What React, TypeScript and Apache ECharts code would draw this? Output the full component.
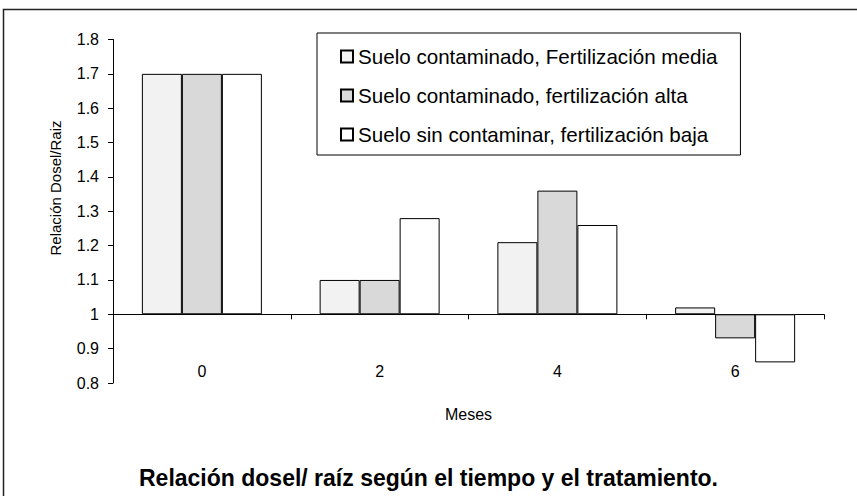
import React, { useEffect, useRef } from "react";
import * as echarts from "echarts";

const categories = ["0", "2", "4", "6"];
const seriesNames = [
  "Suelo contaminado, Fertilización media",
  "Suelo contaminado, fertilización alta",
  "Suelo sin contaminar, fertilización baja",
];
const mediaValues = [1.7, 1.1, 1.21, 1.02];
const altaValues = [1.7, 1.1, 1.36, 0.93];
const bajaValues = [1.7, 1.28, 1.26, 0.86];
const BASE = 1;
const Y_MIN = 0.8;
const Y_MAX = 1.8;
const Y_STEP = 0.1;
const xName = "Meses";
const yName = "Relación Dosel/Raiz";
const chartTitle = "Relación dosel/ raíz según el tiempo y el tratamiento.";

const fills = ["#f2f2f2", "#d9d9d9", "#ffffff"];

export default function App() {
  const ref = useRef<HTMLDivElement>(null);
  useEffect(() => {
    document.body.style.margin = "0";
    if (!ref.current) return;
    const chart = echarts.init(ref.current, null, { renderer: "svg" });
    const all = [mediaValues, altaValues, bajaValues];
    const font = "Arial, 'Liberation Sans', sans-serif";
    chart.setOption({
      animation: false,
      backgroundColor: "#ffffff",
      textStyle: { fontFamily: font },
      title: {
        text: chartTitle,
        left: "center",
        top: 461,
        textStyle: { fontFamily: font, fontSize: 23, fontWeight: "bold", color: "#000" },
      },
      graphic: [
        {
          type: "rect",
          shape: { x: 3.5, y: 9.5, width: 900, height: 600 },
          style: { fill: "none", stroke: "#222", lineWidth: 1.5 },
          silent: true,
        },
        {
          type: "text",
          x: 55,
          y: 188,
          rotation: Math.PI / 2,
          style: {
            text: yName,
            fontSize: 15,
            fontFamily: font,
            fill: "#000",
            align: "center",
            verticalAlign: "middle",
          },
          silent: true,
        },
      ],
      legend: {
        orient: "vertical",
        left: 317,
        top: 33,
        padding: [13, 23, 10, 23],
        itemGap: 18,
        itemWidth: 12,
        itemHeight: 12,
        icon: "rect",
        borderColor: "#000",
        borderWidth: 1,
        textStyle: { fontFamily: font, fontSize: 20.6, color: "#000", lineHeight: 20 },
        data: seriesNames,
      },
      grid: { left: 113, right: 33, top: 39.5, bottom: 113, containLabel: false },
      xAxis: {
        type: "category",
        data: categories,
        position: "bottom",
        axisLine: { onZero: true, lineStyle: { color: "#000", width: 1 } },
        axisTick: { show: true, length: 5, lineStyle: { color: "#000" } },
        axisLabel: { margin: -20, fontSize: 16, color: "#000", fontFamily: font },
        name: xName,
        nameLocation: "middle",
        nameGap: 23,
        nameTextStyle: { fontSize: 16, color: "#000", fontFamily: font },
        splitLine: { show: false },
      },
      yAxis: {
        type: "value",
        min: Y_MIN - BASE,
        max: Y_MAX - BASE,
        interval: Y_STEP,
        axisLine: { show: true, lineStyle: { color: "#000", width: 1 } },
        axisTick: { show: true, length: 5, lineStyle: { color: "#000" } },
        axisLabel: {
          fontSize: 16,
          color: "#000",
          margin: 14,
          fontFamily: font,
          formatter: (v: number) => String(Math.round((v + BASE) * 10) / 10),
        },
        splitLine: { show: false },
      },
      series: seriesNames.map((name, i) => ({
        name,
        type: "bar",
        data: all[i].map((v) => Math.round((v - BASE) * 1000) / 1000),
        barWidth: 40,
        barGap: "0%",
        itemStyle: { color: fills[i], borderColor: "#000", borderWidth: 1 },
      })),
    });
    return () => chart.dispose();
  }, []);
  return <div ref={ref} style={{ width: 857, height: 496 }} />;
}
